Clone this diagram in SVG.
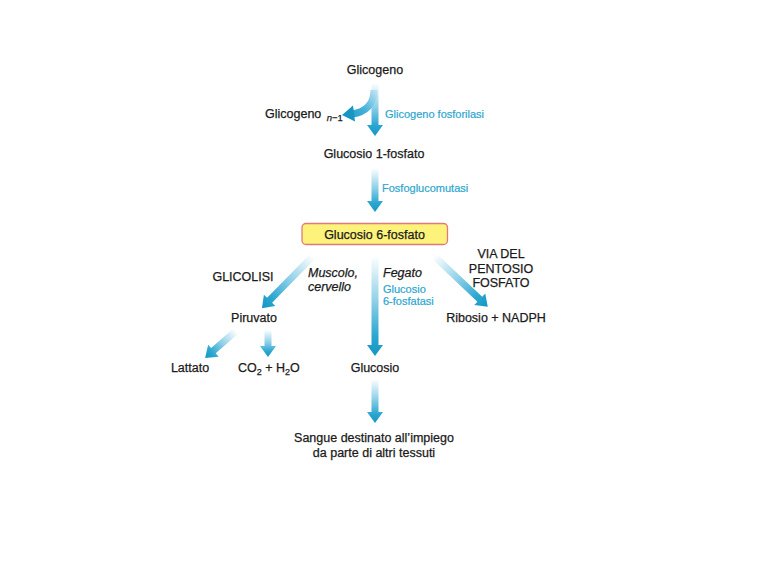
<svg xmlns="http://www.w3.org/2000/svg" width="768" height="576" viewBox="0 0 768 576">
<defs>
<linearGradient id="ag" x1="0" y1="0" x2="0" y2="1">
<stop offset="0" stop-color="#ffffff"/>
<stop offset="0.45" stop-color="#8fd0e8"/>
<stop offset="0.8" stop-color="#2aa6d0"/>
<stop offset="1" stop-color="#1796c4"/>
</linearGradient>
<linearGradient id="cg" gradientUnits="userSpaceOnUse" x1="374" y1="88" x2="342" y2="116">
<stop offset="0" stop-color="#bfe4f2"/>
<stop offset="0.5" stop-color="#45b2da"/>
<stop offset="1" stop-color="#1796c4"/>
</linearGradient>
</defs>
<style>
.t{font-family:"Liberation Sans",Arial,sans-serif;font-size:12.5px;fill:#1a1a1a;stroke:#1a1a1a;stroke-width:0.25px}
.m{text-anchor:middle}
.i{font-style:italic}
.b{font-family:"Liberation Sans",Arial,sans-serif;font-size:11px;fill:#2aa6cf;stroke:#2aa6cf;stroke-width:0.2px}
.arr{fill:url(#ag)}
</style>
<rect width="768" height="576" fill="#ffffff"/>
<g id="connectors">
<path class="arr" transform="translate(375,83)" d="M-3.5,0 L3.5,0 L3.5,42 L8,42 L0,53 L-8,42 L-3.5,42 Z"/>
<path d="M374,90 C374,104 366,112 352,114" fill="none" stroke="url(#cg)" stroke-width="7"/>
<path d="M353,105.5 L342,115 L355,121.5 Z" fill="#1796c4"/>
<path class="arr" transform="translate(375,168)" d="M-3.5,0 L3.5,0 L3.5,33 L8,33 L0,44 L-8,33 L-3.5,33 Z"/>
<path class="arr" transform="translate(313,256) rotate(44.4)" d="M-3.5,0 L3.5,0 L3.5,62 L8,62 L0,73 L-8,62 L-3.5,62 Z"/>
<path class="arr" transform="translate(375,256)" d="M-3.5,0 L3.5,0 L3.5,89 L8,89 L0,100 L-8,89 L-3.5,89 Z"/>
<path class="arr" transform="translate(434,256) rotate(-46.6)" d="M-3.5,0 L3.5,0 L3.5,63 L8,63 L0,74 L-8,63 L-3.5,63 Z"/>
<path class="arr" transform="translate(236,331) rotate(48.9)" d="M-3.5,0 L3.5,0 L3.5,30 L8,30 L0,41 L-8,30 L-3.5,30 Z"/>
<path class="arr" transform="translate(268,330)" d="M-3.5,0 L3.5,0 L3.5,16 L8,16 L0,27 L-8,16 L-3.5,16 Z"/>
<path class="arr" transform="translate(375,379)" d="M-3.5,0 L3.5,0 L3.5,33 L8,33 L0,44 L-8,33 L-3.5,33 Z"/>
</g>
<g id="n-glicogeno"><text class="t m" x="375" y="74">Glicogeno</text></g>
<g id="n-glicogeno-n1"><text class="t" x="265" y="118">Glicogeno <tspan class="i" font-size="9.5" dx="2" dy="3">n</tspan><tspan font-size="9.5" dy="0">−1</tspan></text></g>
<g id="e-fosforilasi"><text class="b" x="385" y="118">Glicogeno fosforilasi</text></g>
<g id="n-g1p"><text class="t m" x="374" y="158">Glucosio 1-fosfato</text></g>
<g id="e-fosfoglucomutasi"><text class="b" x="382" y="192">Fosfoglucomutasi</text></g>
<g id="n-g6p">
<rect x="302" y="223.5" width="145.5" height="21" rx="4" fill="#fdf27a" stroke="#e07a7a" stroke-width="1.3"/>
<text class="t m" x="374.5" y="239">Glucosio 6-fosfato</text>
</g>
<g id="l-glicolisi"><text class="t m" x="243" y="281">GLICOLISI</text></g>
<g id="l-muscolo"><text class="t i" x="308" y="277">Muscolo,</text><text class="t i" x="308" y="291">cervello</text></g>
<g id="l-fegato"><text class="t i" x="383" y="277">Fegato</text><text class="b" x="383" y="293">Glucosio</text><text class="b" x="383" y="305">6-fosfatasi</text></g>
<g id="l-pentosio"><text class="t m" x="501" y="258">VIA DEL</text><text class="t m" x="501" y="273">PENTOSIO</text><text class="t m" x="501" y="287">FOSFATO</text></g>
<g id="n-ribosio"><text class="t m" x="496" y="322">Ribosio + NADPH</text></g>
<g id="n-piruvato"><text class="t m" x="254" y="322">Piruvato</text></g>
<g id="n-lattato"><text class="t m" x="190" y="372">Lattato</text></g>
<g id="n-co2"><text class="t" x="238" y="372">CO<tspan font-size="9" dy="3">2</tspan><tspan dy="-3"> + H</tspan><tspan font-size="9" dy="3">2</tspan><tspan dy="-3">O</tspan></text></g>
<g id="n-glucosio"><text class="t m" x="375" y="372">Glucosio</text></g>
<g id="n-sangue"><text class="t m" x="374" y="442">Sangue destinato all’impiego</text><text class="t m" x="374" y="457">da parte di altri tessuti</text></g>
</svg>
